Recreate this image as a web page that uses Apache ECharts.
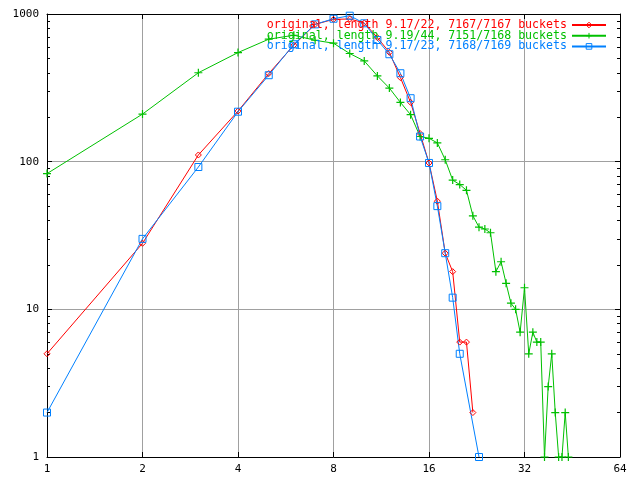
<!DOCTYPE html>
<html><head><meta charset="utf-8">
<script src="https://cdn.jsdelivr.net/npm/echarts@6/dist/echarts.min.js"></script>
<style>html,body{margin:0;padding:0;background:#fff}#c{width:640px;height:480px}</style>
</head><body><div id="c"></div>
<script>
const seriesNames = [
  'original, length 9.17/22, 7167/7167 buckets',
  'original, length 9.19/44, 7151/7168 buckets',
  'original, length 9.17/23, 7168/7169 buckets'
];
const colors = ['#ff0000', '#00c000', '#0080ff'];
const redX = [1,2,3,4,5,6,7,8,9,10,11,12,13,14,15,16,17,18,19,20,21,22];
const redY = [5,28,111,220,395,615,851,920,925,870,692,550,371,252,155,98,54,24,18,6,6,2];
const greenX = [1,2,3,4,5,6,7,8,9,10,11,12,13,14,15,16,17,18,19,20,21,22,23,24,25,26,27,28,29,30,31,32,33,34,35,36,37,38,39,40,41,42,43,44];
const greenY = [83,210,400,548,675,718,664,634,540,481,381,315,252,208,148,144,134,103,75,70,64,43,36,35,33,18,21,15,11,10,7,14,5,7,6,6,1,3,5,2,1,1,2,1];
const blueX = [1,2,3,4,5,6,7,8,9,10,11,12,13,14,15,16,17,18,19,20,23];
const blueY = [2,30,92,218,385,624,851,929,974,865,667,534,397,269,148,98,50,24,12,5,1];
const xTicks = [1,2,4,8,16,32,64];
const yTicks = [1,10,100,1000];
const yMinor = [2,3,4,5,6,7,8,9,20,30,40,50,60,70,80,90,200,300,400,500,600,700,800,900];

const pairs = (xs, ys) => xs.map((x, i) => [x, ys[i]]);
const mono = 'DejaVu Sans Mono';
const gridCol = '#a0a0a0';
const clear = 'rgba(255,255,255,0)';

const baseX = {
  type: 'log', logBase: 2, min: 1, max: 64, gridIndex: 0,
  axisLine: {show: true, lineStyle: {color: '#000', width: 1}},
  axisTick: {show: true, inside: true, length: 5, lineStyle: {color: '#000'}},
  splitLine: {show: false}, axisLabel: {show: false}
};
const baseY = {
  type: 'log', logBase: 10, min: 1, max: 1000, gridIndex: 0,
  axisLine: {show: true, lineStyle: {color: '#000', width: 1}},
  axisTick: {show: true, inside: true, length: 5, lineStyle: {color: '#000'}},
  splitLine: {show: false}, axisLabel: {show: false}
};
const symbols = ['diamond', 'path://M4,0L4,8M0,4L8,4', 'rect'];

const option = {
  animation: false,
  backgroundColor: '#fff',
  grid: {left: 47, top: 14, right: 20, bottom: 23, containLabel: false},
  legend: {
    orient: 'vertical', right: 28, top: 14, align: 'right',
    itemWidth: 34, itemHeight: 7, itemGap: -1.3,
    textStyle: {fontFamily: mono, fontSize: 11.6, lineHeight: 10.7},
    data: seriesNames.map((n, i) => ({name: n, textStyle: {color: colors[i]},
      itemStyle: {color: clear, borderColor: colors[i], borderWidth: 1}}))
  },
  xAxis: [
    Object.assign({}, baseX, {
      position: 'bottom',
      splitLine: {show: true, lineStyle: {color: gridCol, width: 1}},
      axisLabel: {show: true, color: '#000', fontFamily: mono, fontSize: 11, margin: 7,
        customValues: xTicks, formatter: v => String(Math.round(v))},
      axisTick: {show: true, inside: true, length: 5, lineStyle: {color: '#000'}, customValues: xTicks}
    }),
    Object.assign({}, baseX, {position: 'top',
      axisTick: {show: true, inside: true, length: 5, lineStyle: {color: '#000'}, customValues: xTicks}})
  ],
  yAxis: [
    Object.assign({}, baseY, {
      position: 'left',
      splitLine: {show: true, lineStyle: {color: gridCol, width: 1}},
      axisLabel: {show: true, color: '#000', fontFamily: mono, fontSize: 11, margin: 8,
        customValues: yTicks, formatter: v => String(Math.round(v))},
      axisTick: {show: true, inside: true, length: 5, lineStyle: {color: '#000'}, customValues: yTicks}
    }),
    Object.assign({}, baseY, {position: 'right',
      axisTick: {show: true, inside: true, length: 5, lineStyle: {color: '#000'}, customValues: yTicks}}),
    Object.assign({}, baseY, {position: 'left', axisLine: {show: false},
      axisTick: {show: true, inside: true, length: 3, lineStyle: {color: '#000'}, customValues: yMinor}}),
    Object.assign({}, baseY, {position: 'right', axisLine: {show: false},
      axisTick: {show: true, inside: true, length: 3, lineStyle: {color: '#000'}, customValues: yMinor}})
  ],
  series: [[redX, redY, 6], [greenX, greenY, 8], [blueX, blueY, 7]].map((s, i) => ({
    name: seriesNames[i], type: 'line', xAxisIndex: 0, yAxisIndex: 0,
    data: pairs(s[0], s[1]), showSymbol: true, showAllSymbol: true,
    symbol: symbols[i], symbolSize: s[2],
    lineStyle: {color: colors[i], width: 1},
    itemStyle: {color: clear, borderColor: colors[i], borderWidth: i === 1 ? 1.2 : 1}
  }))
};
const chart = echarts.init(document.getElementById('c'), null, {renderer: 'canvas'});
chart.setOption(option);
</script>
</body></html>
